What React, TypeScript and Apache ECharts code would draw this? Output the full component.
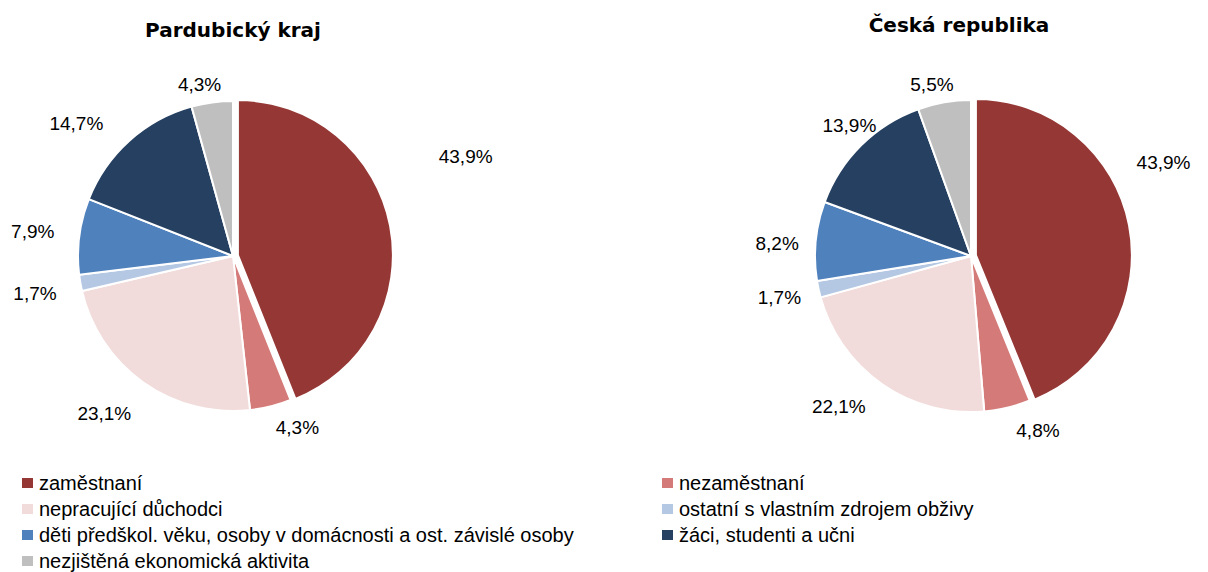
import React, { useEffect, useRef } from "react";
import * as echarts from "echarts";

const categories = [
  "zaměstnaní",
  "nezaměstnaní",
  "nepracující důchodci",
  "ostatní s vlastním zdrojem obživy",
  "děti předškol. věku, osoby v domácnosti a ost. závislé osoby",
  "žáci, studenti a učni",
  "nezjištěná ekonomická aktivita",
];
const colors = ["#953735", "#D47B79", "#F2DCDB", "#B4C8E4", "#4F81BD", "#254061", "#BFBFBF"];
const pardubickyValues = [43.9, 4.3, 23.1, 1.7, 7.9, 14.7, 4.3];
const crValues = [43.9, 4.8, 22.1, 1.7, 8.2, 13.9, 5.5];
const titles = ["Pardubický kraj", "Česká republika"];
const legendLeft = [categories[0], categories[2], categories[4], categories[6]];
const legendRight = [categories[1], categories[3], categories[5]];

// label nudges (px) to mimic the original's label placement
const leftLabelShift: [number, number][] = [[23, -65], [-5, 1], [5, 14], [2, 7], [1, -2], [-7, -2], [17, 3]];
const rightLabelShift: [number, number][] = [[-18, -59], [-1, 2], [1, 5], [8, 4], [9, 4], [35, -5], [18, 3]];

const FONT = "'Liberation Sans', Arial, sans-serif";

function makeData(values: number[]) {
  return values.map((v, i) => ({
    name: categories[i],
    value: v,
    selected: i === 0,
    itemStyle: { color: colors[i] },
  }));
}

function pieSeries(values: number[], center: [number, number], radius: number, shifts: [number, number][]) {
  return {
    type: "pie",
    center,
    radius,
    startAngle: 90,
    clockwise: true,
    selectedMode: "single",
    selectedOffset: 5,
    avoidLabelOverlap: false,
    emphasis: { disabled: true },
    select: { itemStyle: { borderColor: "#ffffff", borderWidth: 2 } },
    itemStyle: { borderColor: "#ffffff", borderWidth: 2 },
    label: {
      show: true,
      position: "outside",
      formatter: (p: any) => p.value.toFixed(1).replace(".", ",") + "%",
      fontFamily: FONT,
      fontSize: 19,
      color: "#000",
      distanceToLabelLine: 5,
    },
    labelLine: { show: false, length: 21, length2: 0 },
    labelLayout: (p: any) => {
      const s = shifts[p.dataIndex] || [0, 0];
      return { dx: s[0], dy: s[1] };
    },
    data: makeData(values),
  };
}

export default function App() {
  const ref = useRef<HTMLDivElement>(null);
  useEffect(() => {
    if (!ref.current) return;
    const chart = echarts.init(ref.current, undefined, { renderer: "svg" });
    const legendCommon = {
      orient: "vertical",
      icon: "rect",
      itemWidth: 13,
      itemHeight: 12,
      itemGap: 6,
      padding: 0,
      height: 120,
      selectedMode: false,
      textStyle: { fontFamily: FONT, fontSize: 20, color: "#000" },
    };
    const titleStyle = {
      fontFamily: "'DejaVu Sans', sans-serif",
      fontSize: 20,
      fontWeight: "bold",
      fill: "#000",
      textAlign: "center",
      textVerticalAlign: "middle",
    };
    chart.setOption({
      animation: false,
      backgroundColor: "#ffffff",
      graphic: [
        { type: "text", x: 233, y: 30, style: { ...titleStyle, text: titles[0] } },
        { type: "text", x: 959, y: 25, style: { ...titleStyle, text: titles[1] } },
      ],
      legend: [
        { ...legendCommon, left: 20, top: 473, data: legendLeft },
        { ...legendCommon, left: 660, top: 473, data: legendRight },
      ],
      series: [
        pieSeries(pardubickyValues, [233, 256], 155, leftLabelShift),
        pieSeries(crValues, [971, 256], 156, rightLabelShift),
      ],
    });
    return () => chart.dispose();
  }, []);
  return (
    <div
      ref={ref}
      style={{ position: "absolute", left: 0, top: 0, width: 1208, height: 572, background: "#fff" }}
    />
  );
}
